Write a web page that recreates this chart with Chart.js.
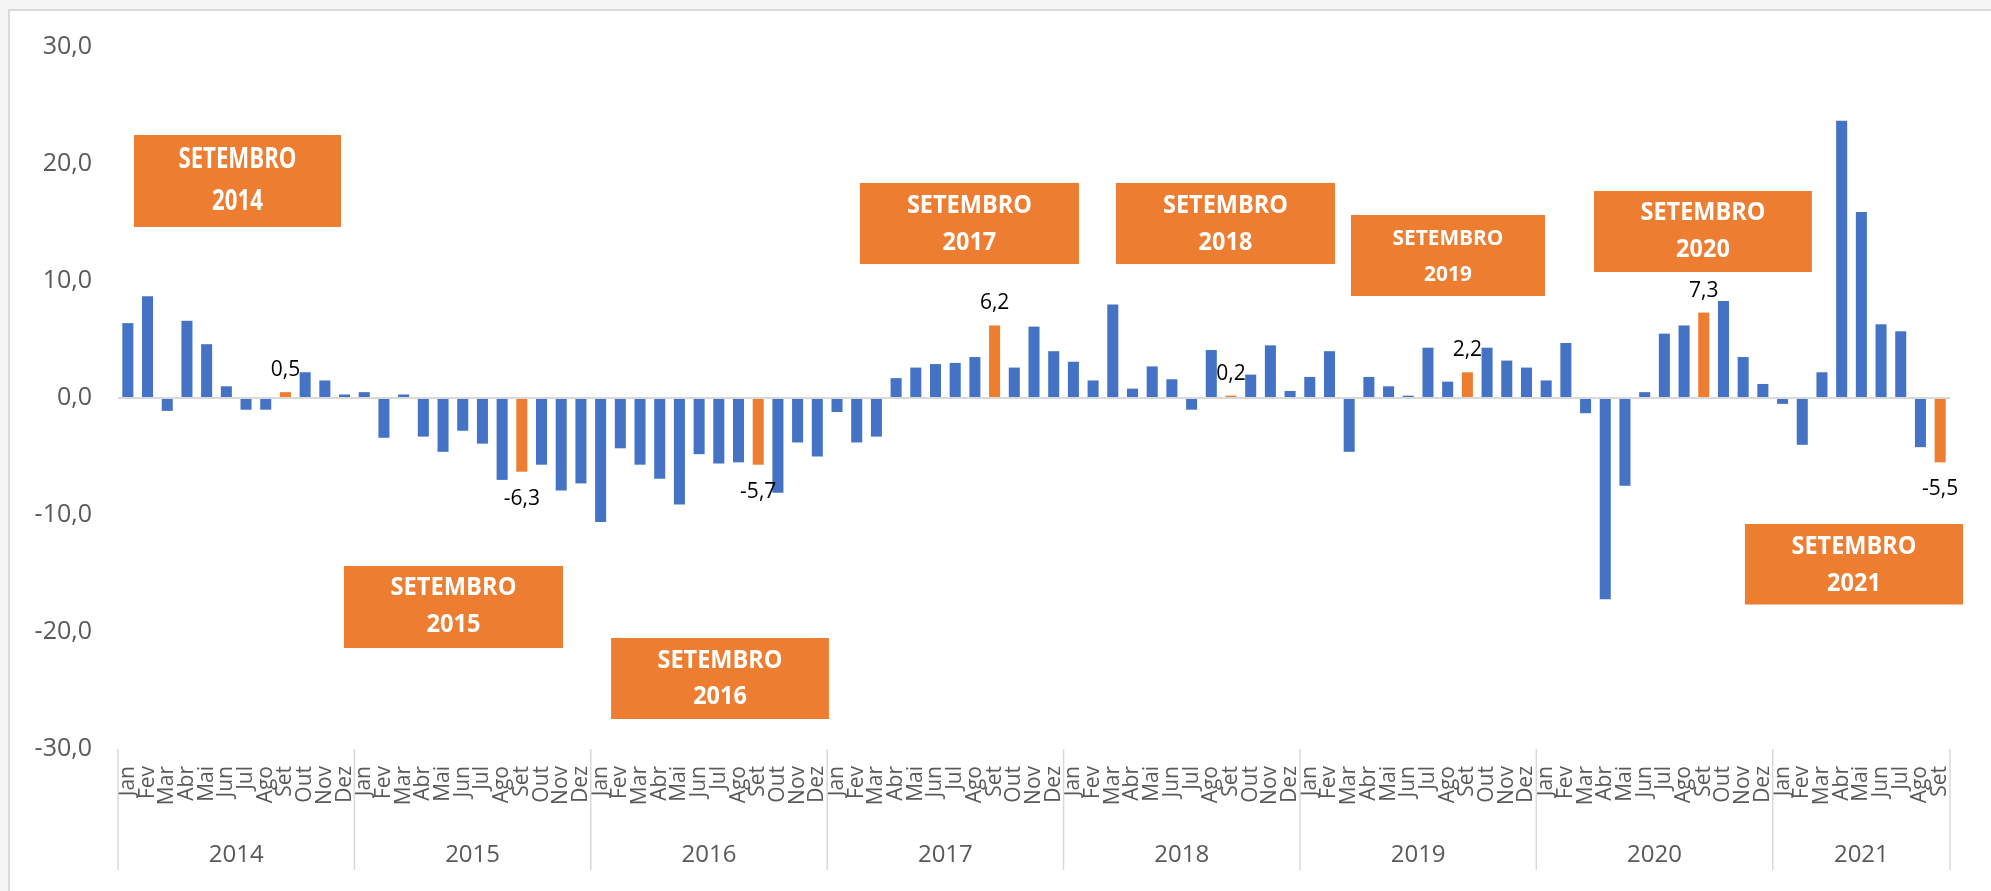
<!DOCTYPE html>
<html>
<head>
<meta charset="utf-8">
<script src="https://cdn.jsdelivr.net/npm/chart.js@4/dist/chart.umd.min.js"></script>
<style>
  html, body { margin: 0; padding: 0; background: #f5f5f5; }
  #frame { position: absolute; left: 8px; top: 9px; width: 2000px; height: 900px;
           background: #ffffff; border: 2px solid #dadada; }
  #c { position: absolute; left: 0; top: 0; }
</style>
</head>
<body>
<div id="frame"></div>
<canvas id="c" width="1991" height="891"></canvas>
<script>
// ---------------- DATA ----------------
const monthNames = ['Jan','Fev','Mar','Abr','Mai','Jun','Jul','Ago','Set','Out','Nov','Dez'];
const years = ['2014','2015','2016','2017','2018','2019','2020','2021'];
const v2014 = [6.4, 8.7, -1.1, 6.6, 4.6, 1.0, -1.0, -1.0, 0.5, 2.2, 1.5, 0.3];
const v2015 = [0.5, -3.4, 0.3, -3.3, -4.6, -2.8, -3.9, -7.0, -6.3, -5.7, -7.9, -7.3];
const v2016 = [-10.6, -4.3, -5.7, -6.9, -9.1, -4.8, -5.6, -5.5, -5.7, -8.1, -3.8, -5.0];
const v2017 = [-1.2, -3.8, -3.3, 1.7, 2.6, 2.9, 3.0, 3.5, 6.2, 2.6, 6.1, 4.0];
const v2018 = [3.1, 1.5, 8.0, 0.8, 2.7, 1.6, -1.0, 4.1, 0.2, 2.0, 4.5, 0.6];
const v2019 = [1.8, 4.0, -4.6, 1.8, 1.0, 0.2, 4.3, 1.4, 2.2, 4.3, 3.2, 2.6];
const v2020 = [1.5, 4.7, -1.3, -17.2, -7.5, 0.5, 5.5, 6.2, 7.3, 8.3, 3.5, 1.2];
const v2021 = [-0.5, -4.0, 2.2, 23.7, 15.9, 6.3, 5.7, -4.2, -5.5];
const yearValues = [v2014, v2015, v2016, v2017, v2018, v2019, v2020, v2021];
const yTickValues = [-30, -20, -10, 0, 10, 20, 30];
const highlightMonth = 'Set';
const boxTitle = 'SETEMBRO';

// ---------------- BUILD ----------------
const labels = [], values = [], yearOfBar = [];
yearValues.forEach((arr, yi) => {
  arr.forEach((v, mi) => { labels.push(monthNames[mi]); values.push(v); yearOfBar.push(years[yi]); });
});
const BLUE = '#4472C4', ORANGE = '#ED7D31';
const colors = labels.map(m => m === highlightMonth ? ORANGE : BLUE);
const fmt = v => v.toFixed(1).replace('.', ',');

// annotation boxes, positioned in data space (category index, value)
const boxes = [
  {year:'2014', x0:0.31,  x1:10.82, yTop:22.48,  yBot:14.62,  font:28, textW:118, l1:25,   l2:66.7},
  {year:'2015', x0:10.97, x1:22.09, yTop:-14.36, yBot:-21.37, font:25, textW:126, l1:22.3, l2:59.2},
  {year:'2016', x0:24.53, x1:35.59, yTop:-20.51, yBot:-27.44, font:25, textW:125, l1:22.5, l2:59.3},
  {year:'2017', x0:37.16, x1:48.28, yTop:18.38,  yBot:11.45,  font:25, textW:125, l1:22.7, l2:59.7},
  {year:'2018', x0:50.16, x1:61.28, yTop:18.38,  yBot:11.45,  font:25, textW:125, l1:22.7, l2:59.7},
  {year:'2019', x0:62.09, x1:71.94, yTop:15.64,  yBot:8.72,   font:22, textW:111, l1:23.3, l2:60},
  {year:'2020', x0:74.43, x1:85.49, yTop:17.69,  yBot:10.77,  font:25, textW:125, l1:22.3, l2:59.3},
  {year:'2021', x0:82.09, x1:93.16, yTop:-10.77, yBot:-17.65, font:25, textW:125, l1:22.5, l2:59.6}
];

const FONT = "'Open Sans', 'DejaVu Sans', sans-serif";

const overlay = {
  id: 'overlay',
  afterDatasetsDraw(chart) {
    const ctx = chart.ctx, xs = chart.scales.x, ys = chart.scales.y, ca = chart.chartArea;
    const step = xs.getPixelForValue(1) - xs.getPixelForValue(0);
    // year separators and labels
    ctx.save();
    ctx.strokeStyle = '#d9d9d9';
    ctx.lineWidth = 1.5;
    let start = 0;
    years.forEach((yr, yi) => {
      const n = yearValues[yi].length;
      const left = xs.getPixelForValue(start) - step / 2;
      const right = xs.getPixelForValue(start + n - 1) + step / 2;
      ctx.beginPath(); ctx.moveTo(left, ca.bottom); ctx.lineTo(left, ca.bottom + 121); ctx.stroke();
      if (yi === years.length - 1) {
        ctx.beginPath(); ctx.moveTo(right, ca.bottom); ctx.lineTo(right, ca.bottom + 121); ctx.stroke();
      }
      ctx.fillStyle = '#595959';
      ctx.font = '24px ' + FONT;
      ctx.textAlign = 'center'; ctx.textBaseline = 'middle';
      ctx.fillText(yr, (left + right) / 2, ca.bottom + 106);
      start += n;
    });
    ctx.restore();

    // annotation boxes
    boxes.forEach(b => {
      const x0 = xs.getPixelForValue(b.x0), x1 = xs.getPixelForValue(b.x1);
      const y0 = ys.getPixelForValue(b.yTop), y1 = ys.getPixelForValue(b.yBot);
      ctx.save();
      ctx.fillStyle = ORANGE;
      ctx.fillRect(x0, y0, x1 - x0, y1 - y0);
      ctx.fillStyle = '#ffffff';
      ctx.font = 'bold ' + b.font + 'px ' + FONT;
      ctx.textAlign = 'center'; ctx.textBaseline = 'middle';
      const sx = b.textW / ctx.measureText(boxTitle).width;
      const cx = (x0 + x1) / 2;
      [[boxTitle, b.l1], [b.year, b.l2]].forEach(([t, off]) => {
        ctx.save();
        ctx.translate(cx, y0 + off);
        ctx.scale(sx, 1);
        ctx.fillText(t, 0, 0);
        ctx.restore();
      });
      ctx.restore();
    });

    // data labels for highlighted month
    const meta = chart.getDatasetMeta(0);
    ctx.save();
    ctx.fillStyle = '#000000';
    ctx.font = '21px ' + FONT;
    ctx.textAlign = 'center'; ctx.textBaseline = 'middle';
    labels.forEach((m, i) => {
      if (m !== highlightMonth) return;
      const el = meta.data[i];
      const v = values[i];
      const y = v >= 0 ? el.y - 22 : el.y + 27;
      ctx.fillText(fmt(v), el.x, y);
    });
    ctx.restore();
  }
};

new Chart(document.getElementById('c'), {
  type: 'bar',
  data: {
    labels: labels,
    datasets: [{
      data: values,
      backgroundColor: colors,
      borderWidth: 0,
      barPercentage: 0.56,
      categoryPercentage: 1.0
    }]
  },
  options: {
    responsive: false,
    animation: false,
    devicePixelRatio: 1,
    layout: { padding: { top: 47, right: 41, left: 0, bottom: 0 } },
    plugins: { legend: { display: false }, tooltip: { enabled: false } },
    scales: {
      x: {
        grid: { display: false, drawTicks: false },
        border: { display: false },
        ticks: {
          autoSkip: false, minRotation: 90, maxRotation: 90,
          color: '#595959', font: { family: FONT, size: 21 }, padding: 17
        },
        afterFit(scale) { scale.height = 142; }
      },
      y: {
        min: -30, max: 30,
        border: { display: false },
        grid: {
          drawTicks: false,
          color: ctx => ctx.tick && ctx.tick.value === 0 ? '#d9d9d9' : 'rgba(0,0,0,0)',
          lineWidth: 2
        },
        afterBuildTicks(scale) { scale.ticks = yTickValues.map(v => ({ value: v })); },
        ticks: {
          color: '#595959', font: { family: FONT, size: 25 }, padding: 26,
          callback: v => fmt(v)
        },
        afterFit(scale) { scale.width = 118; }
      }
    }
  },
  plugins: [overlay]
});
</script>
</body>
</html>
